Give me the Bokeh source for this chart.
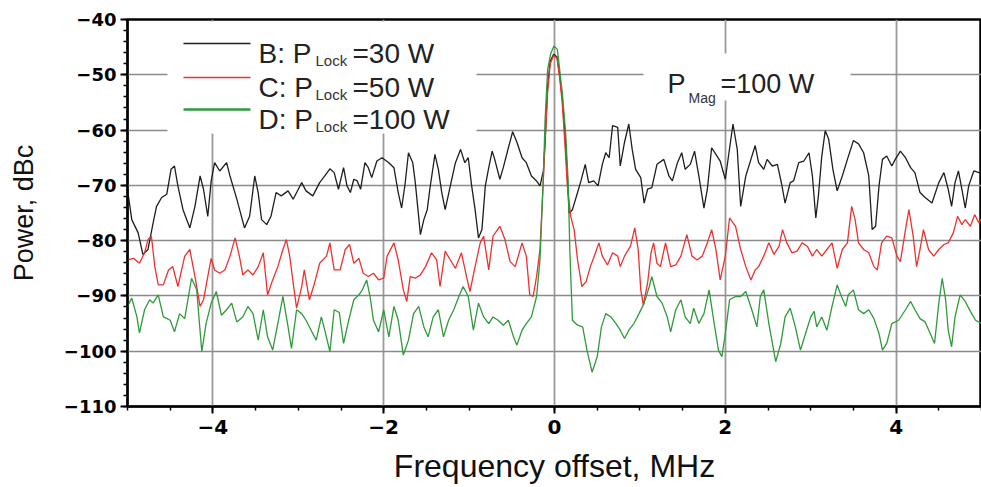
from bokeh.plotting import figure
from bokeh.models import Range1d, BoxAnnotation, Label, SingleIntervalTicker
from bokeh.embed import file_html
from bokeh.resources import INLINE

# ---------------- data ----------------
b_x = [-5.00, -4.95, -4.875, -4.82, -4.76, -4.70, -4.66, -4.60, -4.54, -4.49,
       -4.45, -4.41, -4.35, -4.27, -4.21, -4.15, -4.11, -4.06, -4.02, -3.98,
       -3.92, -3.84, -3.80, -3.72, -3.63, -3.57, -3.51, -3.47, -3.43, -3.37,
       -3.32, -3.26, -3.20, -3.12, -3.06, -3.00, -2.96, -2.91, -2.83, -2.75,
       -2.69, -2.63, -2.58,
       -2.53, -2.47, -2.43, -2.39, -2.35, -2.31, -2.27, -2.22, -2.18, -2.14,
       -2.08, -2.02, -1.94, -1.88, -1.83, -1.79, -1.75, -1.71, -1.66, -1.63,
       -1.57, -1.53, -1.49, -1.46, -1.40, -1.36, -1.32, -1.28, -1.22, -1.16,
       -1.10, -1.05, -1.01, -0.97, -0.93, -0.89, -0.85, -0.81, -0.77, -0.73,
       -0.70, -0.64, -0.60, -0.54, -0.49, -0.44, -0.38, -0.33, -0.27, -0.21,
       -0.17, -0.13,
       -0.11, -0.08, -0.05, -0.01, 0.03, 0.06, 0.09, 0.12, 0.15,
       0.17, 0.21, 0.27, 0.31, 0.36, 0.40, 0.46, 0.51, 0.56, 0.60,
       0.64, 0.68, 0.74, 0.77, 0.82, 0.87, 0.91, 0.95, 1.01, 1.05,
       1.09, 1.14, 1.20, 1.28, 1.34, 1.38, 1.44, 1.49, 1.53, 1.59,
       1.64, 1.69, 1.75, 1.79, 1.84, 1.89, 1.94, 2.00, 2.06, 2.09,
       2.14, 2.18, 2.24, 2.30, 2.35,
       2.39, 2.45, 2.49, 2.55, 2.61, 2.66, 2.70, 2.76, 2.80, 2.86,
       2.92, 2.98, 3.02, 3.06, 3.09, 3.13, 3.17, 3.21, 3.26, 3.31,
       3.37, 3.43, 3.50, 3.56, 3.62, 3.68, 3.72, 3.76, 3.80, 3.84,
       3.89, 3.95, 3.99, 4.05, 4.11, 4.17, 4.22, 4.28, 4.34, 4.42,
       4.50, 4.56, 4.61, 4.65, 4.69, 4.73, 4.77, 4.81, 4.85, 4.91,
       4.97, 5.00]
b_y = [-70.7, -76.2, -78.6, -82.5, -81.6, -76.8, -73.8, -72.2, -71.6, -67.1,
       -66.5, -70.1, -74.4, -77.7, -73.8, -68.3, -70.7, -75.6, -69.2, -65.9,
       -67.4, -65.9, -68.3, -72.5, -77.7, -75.6, -68.3, -71.3, -76.2, -77.1,
       -75.6, -71.3, -71.9, -71.0, -72.5, -70.7, -69.5, -71.0, -71.9, -69.5,
       -68.3, -67.0, -67.7,
       -70.7, -66.8, -70.1, -71.3, -68.9, -69.2, -70.7, -65.9, -66.8, -68.6,
       -65.6, -65.0, -65.9, -66.8, -71.3, -74.1, -69.8, -64.1, -65.9, -69.5,
       -78.9, -76.2, -74.4, -70.7, -64.4, -67.1, -71.3, -74.4, -70.1, -65.9,
       -63.5, -65.9, -65.0, -70.1, -74.4, -79.5, -78.0, -70.1, -66.8, -63.8,
       -65.3, -68.9, -66.8, -63.2, -60.3, -62.2, -65.0, -65.9, -68.3, -69.2,
       -70.1, -67.4,
       -62.0, -52.0, -47.5, -46.3, -46.8, -50.0, -54.0, -60.0, -68.0,
       -75.0, -74.4, -71.3, -69.2, -66.2, -69.5, -69.2, -70.1, -66.2, -64.1,
       -65.0, -59.2, -59.5, -66.5, -62.2, -58.9, -63.5, -67.1, -68.6, -73.2,
       -70.7, -70.4, -66.2, -65.3, -68.3, -69.2, -65.9, -64.1, -67.1, -66.2,
       -63.8, -68.3, -74.1, -70.7, -63.2, -64.4, -65.6, -68.9, -62.2, -58.9,
       -63.5, -73.8, -68.3, -65.3, -62.8,
       -65.9, -67.1, -65.3, -66.5, -66.2, -69.8, -73.2, -69.5, -69.2, -65.9,
       -65.6, -64.1, -68.3, -75.9, -71.9, -64.7, -60.1, -61.6, -67.1, -71.0,
       -68.3, -65.3, -61.9, -62.5, -64.1, -68.3, -78.0, -77.4, -70.1, -65.3,
       -64.7, -66.5, -65.3, -63.8, -65.0, -66.8, -67.7, -71.3, -72.2, -73.2,
       -69.5, -67.7, -70.7, -73.8, -69.5, -67.4, -70.7, -74.1, -70.1, -67.4,
       -67.7, -68.0]

c_x = [-5.00, -4.93, -4.86, -4.80, -4.76, -4.72, -4.68, -4.64, -4.58, -4.52,
       -4.47, -4.41, -4.33, -4.27, -4.21, -4.15, -4.11, -4.06, -4.02, -3.98,
       -3.92, -3.86, -3.80, -3.74, -3.69, -3.65, -3.59, -3.53, -3.47, -3.41,
       -3.36, -3.30, -3.24, -3.18, -3.14, -3.10, -3.06, -3.02, -2.96, -2.93,
       -2.87, -2.81, -2.75, -2.67, -2.63, -2.58,
       -2.51, -2.45, -2.40, -2.35, -2.29, -2.24, -2.18, -2.12, -2.06, -2.00,
       -1.96, -1.88, -1.83, -1.77, -1.73, -1.69, -1.63, -1.57, -1.51, -1.44,
       -1.38, -1.34, -1.28, -1.22, -1.16, -1.09, -1.03, -0.99, -0.93, -0.87,
       -0.83, -0.77, -0.72, -0.64, -0.58, -0.52, -0.46, -0.38, -0.33, -0.29,
       -0.25, -0.21, -0.17,
       -0.14, -0.11, -0.08, -0.05, -0.01, 0.03, 0.06, 0.09, 0.12, 0.15,
       0.19, 0.23, 0.27, 0.32, 0.37, 0.42, 0.48, 0.52, 0.56, 0.62,
       0.68, 0.74, 0.77, 0.82, 0.89, 0.94, 0.98, 1.01, 1.04, 1.09,
       1.13, 1.16, 1.20, 1.24, 1.30, 1.36, 1.42, 1.48, 1.55, 1.61,
       1.67, 1.73, 1.79, 1.84, 1.89, 1.94, 2.00, 2.05, 2.12, 2.18,
       2.24, 2.30, 2.35,
       2.39, 2.45, 2.51, 2.57, 2.63, 2.67, 2.72, 2.78, 2.84, 2.90,
       2.96, 3.02, 3.07, 3.13, 3.19, 3.25, 3.31, 3.37, 3.43, 3.48,
       3.52, 3.56, 3.62, 3.68, 3.74, 3.78, 3.83, 3.89, 3.95, 4.01,
       4.05, 4.11, 4.15, 4.20, 4.24, 4.28, 4.32, 4.38, 4.44, 4.50,
       4.56, 4.61, 4.67, 4.72, 4.77, 4.81, 4.87, 4.92, 4.97, 5.00]
c_y = [-83.5, -83.2, -84.1, -82.2, -79.8, -79.2, -84.7, -88.0, -88.0, -85.3,
       -84.7, -88.3, -82.8, -81.6, -86.5, -91.9, -90.7, -86.5, -83.2, -85.3,
       -85.9, -85.3, -82.8, -79.5, -82.8, -86.2, -85.3, -86.2, -84.7, -82.2,
       -89.8, -87.1, -84.7, -81.6, -79.8, -82.8, -87.7, -92.2, -88.3, -85.3,
       -90.7, -87.7, -84.1, -82.8, -80.4, -85.3,
       -85.3, -81.6, -80.7, -84.1, -83.2, -85.9, -86.5, -85.9, -87.1, -86.8,
       -82.8, -80.4, -83.5, -88.9, -91.0, -86.5, -86.8, -86.2, -84.7, -82.2,
       -83.5, -88.3, -81.9, -83.5, -85.0, -82.2, -86.5, -89.2, -84.7, -80.4,
       -79.2, -85.3, -79.2, -77.4, -79.8, -83.8, -84.7, -80.4, -82.8, -89.8,
       -90.1, -86.5, -81.6,
       -72.0, -62.0, -53.0, -48.0, -46.5, -47.0, -50.5, -55.0, -62.0, -70.0,
       -75.6, -78.0, -83.5, -88.3, -87.4, -84.7, -82.2, -80.4, -82.8, -84.4,
       -82.2, -82.8, -84.7, -82.8, -81.0, -77.7, -81.6, -88.9, -91.6, -87.7,
       -82.2, -80.4, -84.1, -84.7, -80.4, -84.7, -84.4, -82.8, -78.9, -82.8,
       -83.5, -82.8, -80.4, -78.0, -81.6, -87.1, -82.8, -75.9, -77.4, -81.6,
       -84.7, -87.1, -85.3,
       -84.7, -82.8, -80.4, -82.5, -81.0, -78.0, -80.4, -82.2, -81.9, -80.4,
       -81.0, -82.8, -81.6, -82.8, -81.6, -80.4, -85.0, -81.6, -80.4, -73.8,
       -76.2, -80.4, -81.6, -82.2, -84.7, -85.3, -80.4, -79.2, -79.5, -82.8,
       -83.8, -78.0, -74.4, -79.2, -84.7, -81.6, -78.0, -81.6, -82.8, -81.6,
       -80.7, -80.4, -78.6, -75.6, -77.1, -76.2, -77.4, -75.3, -76.8, -76.0]

d_x = [-5.00, -4.95, -4.89, -4.86, -4.80, -4.74, -4.70, -4.64, -4.58, -4.50,
       -4.45, -4.39, -4.33, -4.25, -4.19, -4.13, -4.08, -4.02, -3.96, -3.90,
       -3.84, -3.78, -3.72, -3.65, -3.59, -3.53, -3.47, -3.41, -3.36, -3.30,
       -3.24, -3.18, -3.12, -3.08, -3.02, -2.96, -2.91, -2.85, -2.79, -2.73,
       -2.69, -2.63, -2.58,
       -2.52, -2.47, -2.41, -2.35, -2.29, -2.25, -2.20, -2.16, -2.12, -2.06,
       -2.00, -1.94, -1.88, -1.83, -1.77, -1.71, -1.65, -1.59, -1.53, -1.48,
       -1.42, -1.36, -1.30, -1.24, -1.18, -1.12, -1.07, -1.01, -0.95, -0.89,
       -0.83, -0.77, -0.72, -0.66, -0.60, -0.54, -0.48, -0.44, -0.38, -0.33,
       -0.27, -0.21, -0.17,
       -0.13, -0.11, -0.08, -0.045, -0.006, 0.033, 0.053, 0.092, 0.13, 0.16, 0.18,
       0.21, 0.27, 0.33, 0.38, 0.44, 0.50, 0.55, 0.60, 0.66, 0.72,
       0.77, 0.82, 0.87, 0.93, 0.99, 1.05, 1.11, 1.14, 1.20, 1.26,
       1.32, 1.36, 1.42, 1.48, 1.53, 1.59, 1.63, 1.69, 1.75, 1.81,
       1.87, 1.92, 1.96, 2.00, 2.05, 2.12, 2.18, 2.24, 2.31, 2.37,
       2.41, 2.45, 2.51, 2.59, 2.65, 2.70, 2.76, 2.82, 2.88, 2.94,
       3.00, 3.04, 3.07, 3.13, 3.19, 3.25, 3.31, 3.36, 3.41, 3.44,
       3.50, 3.56, 3.62, 3.68, 3.74, 3.80, 3.84, 3.89, 3.95, 4.03,
       4.11, 4.17, 4.22, 4.28, 4.34, 4.40, 4.45, 4.50, 4.54, 4.58,
       4.61, 4.65, 4.69, 4.75, 4.81, 4.87, 4.93, 5.00]
d_y = [-91.9, -90.4, -93.8, -96.7, -92.5, -90.7, -91.3, -89.8, -93.8, -94.4,
       -96.5, -93.2, -94.1, -86.8, -88.9, -100.1, -95.0, -91.3, -89.2, -93.5,
       -92.5, -91.3, -94.7, -93.8, -91.9, -93.2, -98.0, -92.5, -97.4, -99.8,
       -95.0, -90.1, -95.6, -99.5, -92.5, -93.2, -94.4, -96.2, -98.0, -93.8,
       -96.2, -100.1, -92.5,
       -93.0, -98.6, -94.4, -90.7, -89.8, -88.9, -87.1, -90.1, -94.4, -96.5,
       -92.5, -97.4, -91.9, -94.4, -100.7, -98.0, -93.2, -91.9, -95.6, -97.4,
       -93.8, -92.5, -97.4, -94.4, -92.5, -90.1, -88.3, -90.1, -96.2, -91.3,
       -93.8, -95.0, -93.8, -94.4, -95.3, -94.4, -97.4, -98.9, -96.2, -95.0,
       -93.8, -90.1, -83.5,
       -68.3, -58.0, -49.0, -46.2, -44.8, -45.4, -48.0, -53.4, -60.4, -69.4, -82.0,
       -94.4, -95.3, -95.6, -99.8, -103.8, -101.0, -95.6, -93.2, -93.8, -95.0,
       -96.2, -97.7, -96.2, -95.0, -93.2, -91.3, -88.3, -86.5, -90.1, -91.3,
       -93.8, -96.5, -92.5, -90.7, -93.8, -95.0, -92.2, -95.0, -93.2, -88.9,
       -95.0, -99.8, -101.0, -96.8, -90.7, -90.1, -90.1, -89.2, -92.5, -95.6,
       -90.1, -88.9, -95.0, -101.9, -98.6, -93.8, -92.2, -95.6, -99.8, -96.8,
       -93.8, -92.8, -95.6, -93.8, -96.2, -91.9, -88.0, -90.1, -91.9, -89.8,
       -88.9, -92.5, -93.2, -92.5, -94.1, -96.8, -99.8, -98.6, -95.0, -94.4,
       -92.5, -91.0, -92.5, -94.1, -94.7, -96.8, -98.6, -91.3, -86.8, -90.7,
       -96.2, -99.2, -93.8, -89.8, -91.0, -92.8, -94.4, -95.0]

series_names = ["B: P", "C: P", "D: P"]
series_values = ["=30 W", "=50 W", "=100 W"]
series_sub = "Lock"
series_colors = ["#1e1e1e", "#ee3030", "#2e9a3a"]
mag_text = ["P", "Mag", "=100 W"]
x_label = "Frequency offset, MHz"
y_label = "Power, dBc"

# ---------------- layout helpers (pixel -> data, decorations only) ----------------
L, R, T, B = 127, 981, 19, 406
def X(px):
    return -5 + (px - L) * 10.0 / (R - L)
def Y(py):
    return -40 - (py - T) * 70.0 / (B - T)

p = figure(width=981, height=487, output_backend="svg", toolbar_location=None,
           x_range=Range1d(-5, 5), y_range=Range1d(-110, -40),
           min_border_left=L, min_border_right=0, min_border_top=T,
           min_border_bottom=487 - B)
p.background_fill_color = "white"
p.border_fill_color = "white"
p.outline_line_color = "black"
p.outline_line_width = 2.5

p.xaxis.ticker = SingleIntervalTicker(interval=2, num_minor_ticks=4)
p.yaxis.ticker = SingleIntervalTicker(interval=10, num_minor_ticks=5)

for ax in (p.xaxis[0], p.yaxis[0]):
    ax.axis_line_color = "black"
    ax.axis_line_width = 2
    ax.major_tick_line_color = "black"
    ax.major_tick_line_width = 2
    ax.major_tick_in = 0
    ax.major_tick_out = 7
    ax.minor_tick_line_color = "black"
    ax.minor_tick_line_width = 1.5
    ax.minor_tick_in = 0
    ax.minor_tick_out = 4
    ax.major_label_text_font = "DejaVu Sans"
    ax.major_label_text_font_style = "bold"
    ax.major_label_text_color = "black"
    ax.axis_label_text_font = "Liberation Sans"
    ax.axis_label_text_font_style = "normal"
    ax.axis_label_text_color = "#111111"

p.xaxis.major_label_text_font_size = "20px"
p.yaxis.major_label_text_font_size = "18px"
p.xaxis.major_label_standoff = 6
p.yaxis.major_label_standoff = 4
p.xaxis.axis_label = x_label
p.yaxis.axis_label = y_label
p.xaxis.axis_label_text_font_size = "32px"
p.yaxis.axis_label_text_font_size = "27px"
p.xaxis.axis_label_standoff = 11
p.yaxis.axis_label_standoff = 22

p.xgrid.grid_line_color = "#9a9a9a"
p.xgrid.grid_line_width = 1.8
p.ygrid.grid_line_color = "#8a8a8a"
p.ygrid.grid_line_width = 1.3

# white masks behind legend and annotation (hide the grid as in the reference)
p.add_layout(BoxAnnotation(left=X(167), right=X(476), top=Y(21), bottom=Y(133),
                           fill_color="white", fill_alpha=1, line_alpha=0,
                           level="underlay"))
p.add_layout(BoxAnnotation(left=X(643), right=X(850), top=Y(53), bottom=Y(100),
                           fill_color="white", fill_alpha=1, line_alpha=0,
                           level="underlay"))

# traces
for xs, ys, col in ((b_x, b_y, series_colors[0]),
                    (c_x, c_y, series_colors[1]),
                    (d_x, d_y, series_colors[2])):
    p.line(xs, ys, line_color=col, line_width=1.3)

# legend (drawn by hand because of the subscripts)
row_line_y = [43, 77, 109]
row_base = [53, 87, 119]
for i in range(3):
    p.line([X(183), X(250)], [Y(row_line_y[i])] * 2, line_color=series_colors[i],
           line_width=1.5 if i < 2 else 2.5)
    p.add_layout(Label(x=X(258), y=Y(row_base[i]), text=series_names[i],
                       text_font="Liberation Sans", text_font_size="28px",
                       text_color="#222222", text_baseline="alphabetic"))
    p.add_layout(Label(x=X(315), y=Y(row_base[i] + 7), text=series_sub,
                       text_font="Liberation Sans", text_font_size="15px",
                       text_color="#333333", text_baseline="alphabetic"))
    p.add_layout(Label(x=X(352), y=Y(row_base[i]), text=series_values[i],
                       text_font="Liberation Sans", text_font_size="28px",
                       text_color="#222222", text_baseline="alphabetic"))

# P_Mag annotation
p.add_layout(Label(x=X(667), y=Y(83), text=mag_text[0], text_font="Liberation Sans",
                   text_font_size="27px", text_color="#222222", text_baseline="alphabetic"))
p.add_layout(Label(x=X(688), y=Y(97), text=mag_text[1], text_font="Liberation Sans",
                   text_font_size="14px", text_color="#333333", text_baseline="alphabetic"))
p.add_layout(Label(x=X(720), y=Y(83), text=mag_text[2], text_font="Liberation Sans",
                   text_font_size="27px", text_color="#222222", text_baseline="alphabetic"))

open("out.html", "w").write(file_html(p, INLINE))
